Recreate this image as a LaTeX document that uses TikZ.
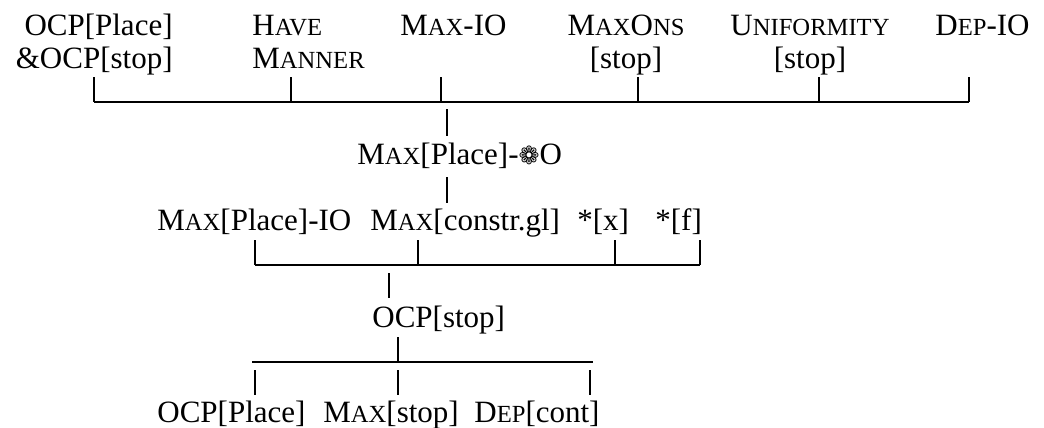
\documentclass[tikz,border=0pt]{standalone}
\usepackage{fontspec}
\setmainfont{Liberation Serif}
\newfontfamily\dingfont{DejaVu Sans}
\usetikzlibrary{positioning}

\newcommand{\smcap}[1]{{\fontsize{12.3}{12.3}\selectfont #1}}
\newcommand{\florette}{{\dingfont\fontsize{12.5}{12.5}\selectfont ❁}}

\begin{document}
\begin{tikzpicture}
[x=0.5pt,y=-0.5pt,%
  every node/.style={inner sep=0pt,font=\fontsize{15.5}{16.5}\selectfont},%
  bar/.style={line width=0.6pt}]
\useasboundingbox (0,0) rectangle (1044,428);
%% top stratum (two-line nodes sit on their last line)
\node[anchor=base east,align=right] (ocp) at (173,68) {OCP[Place]\\\&OCP[stop]};
\node[anchor=base west,align=left] (have) at (252,68) {H\smcap{AVE}\\M\smcap{ANNER}};
\node[anchor=base west] (maxio) at (400,35) {M\smcap{AX}-IO};
\node[anchor=base,align=center] (maxons) at (626,68) {M\smcap{AX}O\smcap{NS}\\{[stop]}};
\node[anchor=base,align=center] (unif) at (810,68) {U\smcap{NIFORMITY}\\{[stop]}};
\node[anchor=base west] (depio) at (935,35) {D\smcap{EP}-IO};
%%
\coordinate (a1) at (94,77);
\coordinate (a2) at (291,77);
\coordinate (a3) at (441,77);
\coordinate (a4) at (638,77);
\coordinate (a5) at (819,77);
\coordinate (a6) at (969,77);
\coordinate (abar) at (0,102);
\coordinate (adrop) at (447,109);
%% second stratum
\node[anchor=base west] (maxo) at (357,164) {M\smcap{AX}[Place]-\florette O};
\coordinate (bdrop) at (447,177);
%% third stratum
\node[anchor=base west] (maxpio) at (157,230) {M\smcap{AX}[Place]-IO};
\node[anchor=base west] (maxgl) at (370,230) {M\smcap{AX}[constr.gl]};
\node[anchor=base west] (starx) at (577,230) {*[x]};
\node[anchor=base west] (starf) at (655,230) {*[f]};
%%
\coordinate (c1) at (255,240);
\coordinate (c2) at (418,240);
\coordinate (c3) at (615,240);
\coordinate (c4) at (700,240);
\coordinate (cbar) at (0,265);
\coordinate (cdrop) at (389,273);
%% fourth stratum
\node[anchor=base west] (ocpstop) at (372,327) {OCP[stop]};
\coordinate (dtop) at (398,337);
\coordinate (dl) at (252,362);
\coordinate (dr) at (593,362);
%% bottom stratum
\node[anchor=base west] (ocpplace) at (157,422) {OCP[Place]};
\node[anchor=base west] (maxstop) at (323,422) {M\smcap{AX}[stop]};
\node[anchor=base west] (depcont) at (474,422) {D\smcap{EP}[cont]};
\coordinate (e1) at (255,370);
\coordinate (e2) at (398,370);
\coordinate (e3) at (590,370);
%% brackets
\foreach \p in {a1,a2,a3,a4,a5,a6}
  \draw[bar] (\p) -- (\p |- abar);
\draw[bar] (a1 |- abar) -- (a6 |- abar);
\draw[bar] (adrop) -- (adrop |- 0,136);
\draw[bar] (bdrop) -- (bdrop |- 0,203);
\foreach \p in {c1,c2,c3,c4}
  \draw[bar] (\p) -- (\p |- cbar);
\draw[bar] (c1 |- cbar) -- (c4 |- cbar);
\draw[bar] (cdrop) -- (cdrop |- 0,298);
\draw[bar] (dtop) -- (dtop |- dl);
\draw[bar] (dl) -- (dr);
\foreach \p in {e1,e2,e3}
  \draw[bar] (\p) -- (\p |- 0,395);
\end{tikzpicture}
\end{document}
